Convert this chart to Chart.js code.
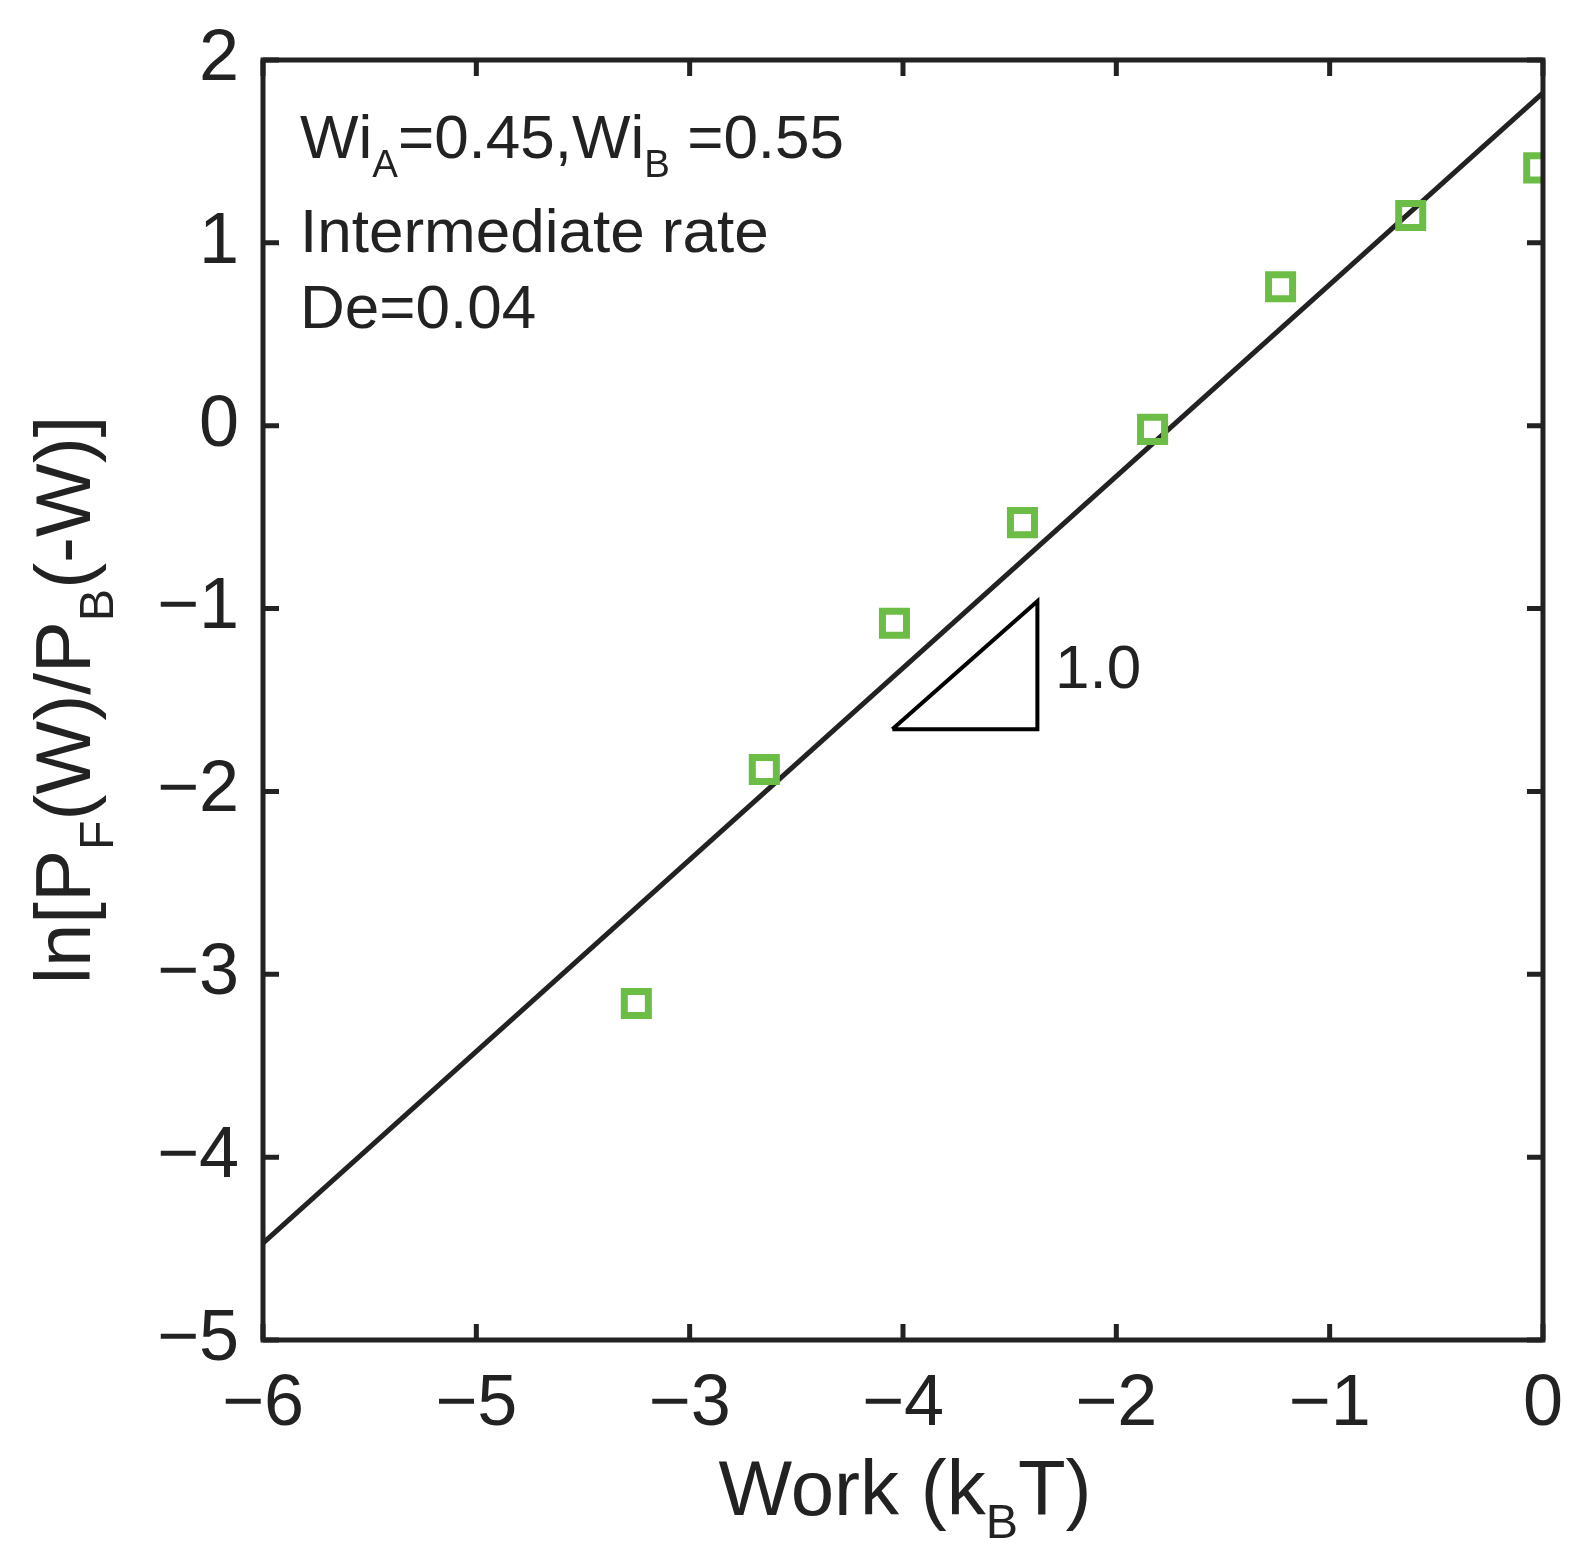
<!DOCTYPE html>
<html>
<head>
<meta charset="utf-8">
<script src="https://cdn.jsdelivr.net/npm/chart.js@4.4.0/dist/chart.umd.min.js"></script>
<style>
  html, body { margin: 0; padding: 0; background: #fff; }
  #wrap { width: 1577px; height: 1568px; }
</style>
</head>
<body>
<div id="wrap"><canvas id="chart"></canvas></div>
<script>
// dados
const workX = [-4.25, -3.65, -3.04, -2.44, -1.83, -1.23, -0.62, -0.02];
const lnRatio = [-3.16, -1.88, -1.08, -0.53, -0.02, 0.76, 1.15, 1.41];
const fitX = [-6, 0];
const fitY = [-4.47, 1.82];
const triX = [-3.05, -2.37, -2.37, -3.05];
const triY = [-1.66, -0.96, -1.66, -1.66];
// rótulos do eixo x como aparecem na figura original
const xTickLabels = ['−6', '−5', '−3', '−4', '−2', '−1', '0'];
const yTicks = [2, 1, 0, -1, -2, -3, -4, -5];

const FONT = '"Liberation Sans", Arial, sans-serif';
const INK = '#222';

function pts(xs, ys) { return xs.map((x, i) => ({ x: x, y: ys[i] })); }

// texto com subscritos
function drawRich(ctx, x, y, parts, size) {
  let cx = x;
  parts.forEach(p => {
    const s = p.sub ? size * 0.62 : size;
    ctx.font = s + 'px ' + FONT;
    ctx.fillText(p.t, cx, p.sub ? y + size * 0.3 : y);
    cx += ctx.measureText(p.t).width;
  });
  return cx - x;
}
function richWidth(ctx, parts, size) {
  let w = 0;
  parts.forEach(p => {
    ctx.font = (p.sub ? size * 0.62 : size) + 'px ' + FONT;
    w += ctx.measureText(p.t).width;
  });
  return w;
}

const decor = {
  id: 'decor',
  afterDraw(chart) {
    const ctx = chart.ctx;
    const a = chart.chartArea;
    const xs = chart.scales.x, ys = chart.scales.y;
    ctx.save();
    ctx.strokeStyle = INK;
    ctx.lineWidth = 5;
    ctx.strokeRect(a.left, a.top, a.right - a.left, a.bottom - a.top);
    const L = 16;
    ctx.beginPath();
    for (let v = -6; v <= 0; v++) {
      const px = xs.getPixelForValue(v);
      ctx.moveTo(px, a.bottom); ctx.lineTo(px, a.bottom - L);
      ctx.moveTo(px, a.top); ctx.lineTo(px, a.top + L);
    }
    yTicks.forEach(v => {
      const py = ys.getPixelForValue(v);
      ctx.moveTo(a.left, py); ctx.lineTo(a.left + L, py);
      ctx.moveTo(a.right, py); ctx.lineTo(a.right - L, py);
    });
    ctx.stroke();

    ctx.fillStyle = INK;
    ctx.textBaseline = 'alphabetic';
    ctx.textAlign = 'left';
    drawRich(ctx, 300, 158, [{ t: 'Wi' }, { t: 'A', sub: 1 }, { t: '=0.45,Wi' }, { t: 'B', sub: 1 }, { t: ' =0.55' }], 62);
    drawRich(ctx, 300, 252, [{ t: 'Intermediate rate' }], 62);
    drawRich(ctx, 300, 328, [{ t: 'De=0.04' }], 62);
    drawRich(ctx, 1055, 688, [{ t: '1.0' }], 62);

    // título do eixo x
    const xt = [{ t: 'Work (k' }, { t: 'B', sub: 1 }, { t: 'T)' }];
    const xw = richWidth(ctx, xt, 78);
    drawRich(ctx, 905 - xw / 2, 1515, xt, 78);

    // título do eixo y
    const yt = [{ t: 'ln[P' }, { t: 'F', sub: 1 }, { t: '(W)/P' }, { t: 'B', sub: 1 }, { t: '(-W)]' }];
    const yw = richWidth(ctx, yt, 78);
    ctx.translate(90, 700);
    ctx.rotate(-Math.PI / 2);
    drawRich(ctx, -yw / 2, 0, yt, 78);
    ctx.restore();
  }
};

new Chart(document.getElementById('chart'), {
  type: 'scatter',
  data: {
    datasets: [
      {
        label: 'data',
        data: pts(workX, lnRatio),
        pointStyle: 'rect',
        pointRadius: 17,
        borderColor: '#6cbd45',
        backgroundColor: 'rgba(0,0,0,0)',
        borderWidth: 7,
        showLine: false
      },
      {
        label: 'fit',
        data: pts(fitX, fitY),
        showLine: true,
        borderColor: INK,
        borderWidth: 5,
        pointRadius: 0
      },
      {
        label: 'slope',
        data: pts(triX, triY),
        showLine: true,
        borderColor: '#000',
        borderWidth: 4,
        pointRadius: 0
      }
    ]
  },
  options: {
    responsive: true,
    maintainAspectRatio: false,
    animation: false,
    layout: { padding: { top: 60, right: 32, left: 0, bottom: 0 } },
    plugins: { legend: { display: false }, tooltip: { enabled: false } },
    scales: {
      x: {
        type: 'linear', min: -6, max: 0,
        grid: { display: false },
        border: { display: false },
        afterFit(s) { s.height = 228; },
        afterBuildTicks(s) { s.ticks = [-6, -5, -4, -3, -2, -1, 0].map(v => ({ value: v })); },
        ticks: {
          color: INK, padding: 14,
          font: { family: FONT, size: 72 },
          callback: v => xTickLabels[v + 6]
        }
      },
      y: {
        type: 'linear', min: -5, max: 2,
        grid: { display: false },
        border: { display: false },
        afterFit(s) { s.width = 263; },
        afterBuildTicks(s) { s.ticks = yTicks.map(v => ({ value: v })); },
        ticks: {
          color: INK, padding: 16,
          font: { family: FONT, size: 72 },
          callback: v => (v < 0 ? '−' + Math.abs(v) : String(v))
        }
      }
    }
  },
  plugins: [decor]
});
</script>
</body>
</html>
